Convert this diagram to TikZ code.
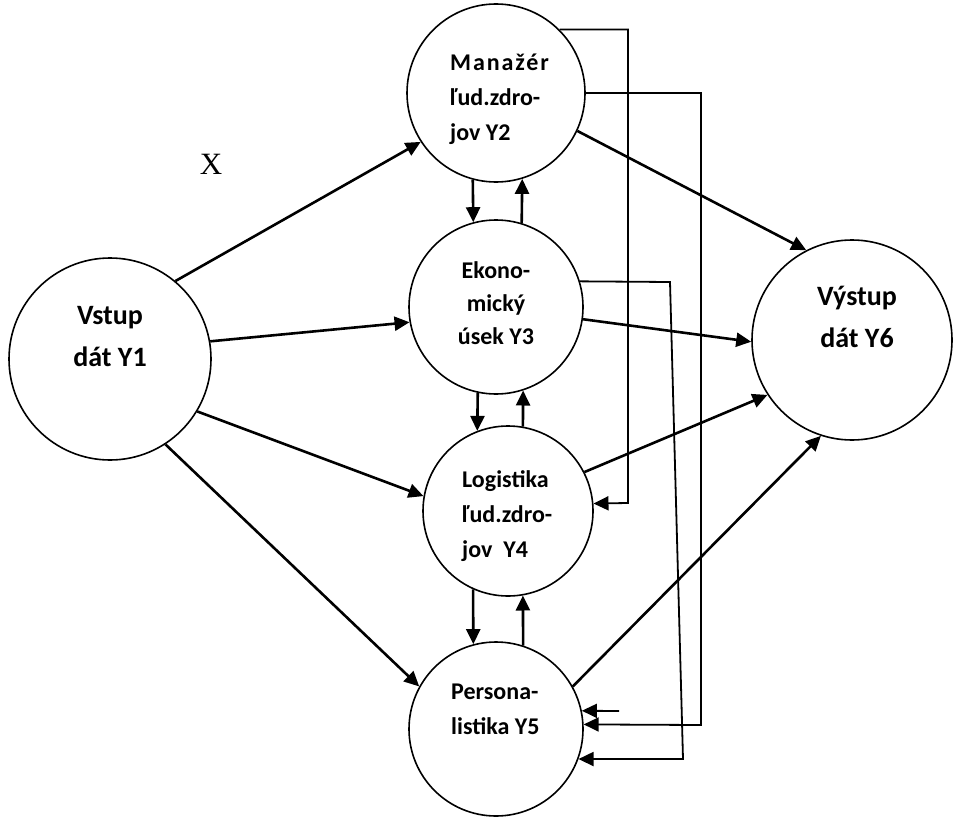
\documentclass[tikz,border=0pt]{standalone}
\usepackage{fontspec}
\setmainfont{Carlito}
\newfontfamily\serifx{Liberation Serif}
\usetikzlibrary{arrows.meta}
\tikzset{
  kruh/.style={circle, draw, line width=1.6pt, inner sep=0pt},
  pijl/.style={line width=2.6pt, -{Triangle[length=15pt,width=14pt]}},
  tenka/.style={line width=1.8pt, -{Triangle[length=15pt,width=14pt]}},
  velky/.style={font=\bfseries\fontsize{28}{42}\selectfont, align=center, inner sep=0pt},
  maly/.style={font=\bfseries\fontsize{24}{35}\selectfont, inner sep=0pt},
}

\begin{document}
\begin{tikzpicture}[x=1pt,y=-1pt]
  \useasboundingbox (0,0) rectangle (955,816);
  % kruhy
  \node[kruh, minimum size=202pt] (y1) at (110,359) {};
  \node[kruh, minimum size=178pt] (y2) at (496,93) {};
  \node[kruh, minimum size=174pt] (y3) at (496,307) {};
  \node[kruh, minimum size=170pt] (y4) at (508,511) {};
  \node[kruh, minimum size=174pt] (y5) at (496,729) {};
  \node[kruh, minimum size=200pt] (y6) at (852,340) {};
  % texty
  \node[velky] (t1) at (110,337) {Vstup\\dát Y1};
  \node[maly, align=left, anchor=west] (t2) at (450,99) {{\addfontfeature{LetterSpace=8}Manažér}\\ľud.zdro-\\jov Y2};
  \node[maly, align=center, font=\bfseries\fontsize{24}{33}\selectfont] (t3) at (496,303) {Ekono-\\mický\\úsek Y3};
  \node[maly, align=left, anchor=west] (t4) at (462,516) {Logistika\\ľud.zdro-\\jov\ \ Y4};
  \node[maly, align=left, anchor=west] (t5) at (451,709) {Persona-\\listika Y5};
  \node[velky] (t6) at (857,317) {Výstup\\dát Y6};
  \node[font=\serifx\fontsize{31}{31}\selectfont, inner sep=0pt] (x) at (211,164) {X};
  % sipky z Y1
  \draw[pijl] (y1.50) -- (y2.213);
  \draw[pijl] (y1.10) -- (y3.190);
  \draw[pijl] (y1.-31) -- (y4.170);
  \draw[pijl] (y1.-57) -- (y5.151);
  % sipky do Y6
  \draw[pijl] (y2.-25) -- (y6.117);
  \draw[pijl] (y3.-8) -- (y6.181);
  \draw[pijl] (y4.27) -- (y6.213);
  \draw[pijl] (y5.29) -- (y6.252);
  % medzi stlpcom
  \draw[pijl] (y2.-105) -- (y3.105);
  \draw[pijl] (y3.73) -- (y2.-73);
  \draw[pijl] (y3.-102) -- (y4.111);
  \draw[pijl] (y4.80) -- (y3.-72);
  \draw[pijl] (y4.-114) -- (y5.105);
  \draw[pijl] (y5.72) -- (y4.-80);
  % spatne vazby vpravo
  \coordinate (r1) at (628,503);
  \coordinate (r2) at (701,725);
  \coordinate (r3a) at (670,282);
  \coordinate (r3b) at (683,759);
  \coordinate (v5) at (619,711);
  \draw[tenka] (y2.45) -| (r1) -- (y4.5);
  \draw[tenka] (y2.0) -| (r2) -- (y5.3);
  \draw[tenka] (y3.17) -- (r3a) -- (r3b) -- (y5.-20);
  \draw[tenka] (v5) -- (y5.12);
\end{tikzpicture}
\end{document}
